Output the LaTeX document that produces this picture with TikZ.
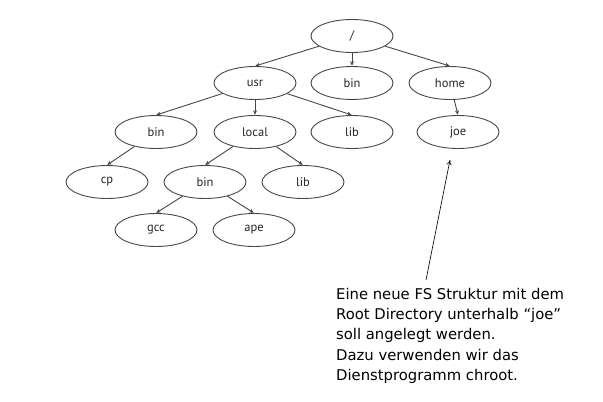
\documentclass[tikz,border=0pt]{standalone}
\usepackage{fontspec}
\setmainfont{PT Sans}
\newfontfamily\notefont{DejaVu Sans}
\usetikzlibrary{arrows.meta,shapes.geometric}
\begin{document}
\begin{tikzpicture}[x=1pt,y=-1pt,
  dir/.style={draw=black!72, line width=0.9pt, ellipse, minimum width=82pt, minimum height=33pt, inner sep=0pt, font=\fontsize{12.5}{14}\selectfont, text=black!85},
  link/.style={draw=black!72, line width=0.9pt, -{Stealth[length=4.5pt,width=4pt]}, shorten >=0.3pt},
  note/.style={draw=black, line width=0.6pt, -{To[length=5pt,width=5pt]}}]
\useasboundingbox[fill=white] (0,0) rectangle (603,402);
\node[dir] (root) at (352,36) {/};
\node[dir] (usr) at (255,83) {usr};
\node[dir] (bin1) at (352,83) {bin};
\node[dir] (home) at (450,83) {home};
\node[dir] (bin2) at (156,132) {bin};
\node[dir] (local) at (255,132) {local};
\node[dir] (lib1) at (352,132) {lib};
\node[dir] (joe) at (458,132) {joe};
\node[dir] (cp) at (107,182) {cp};
\node[dir] (bin3) at (205,182) {bin};
\node[dir] (lib2) at (303,182) {lib};
\node[dir] (gcc) at (156,230) {gcc};
\node[dir] (ape) at (254,230) {ape};
\draw[link] (root) -- (usr.north);
\draw[link] (root) -- (bin1.north);
\draw[link] (root) -- (home.north);
\draw[link] (usr) -- (bin2.north);
\draw[link] (usr) -- (local.north);
\draw[link] (usr) -- (lib1.north);
\draw[link] (home) -- (joe.north);
\draw[link] (bin2) -- (cp.north);
\draw[link] (local) -- (bin3.north);
\draw[link] (local) -- (lib2.north);
\draw[link] (bin3) -- (gcc.north);
\draw[link] (bin3) -- (ape.north);
\node[anchor=north west, align=left, inner sep=0pt, font=\notefont\fontsize{14.8}{20.2}\selectfont] (text) at (336,288) {Eine neue FS Struktur mit dem\\Root Directory unterhalb “joe”\\soll angelegt werden.\\Dazu verwenden wir das\\Dienstprogramm chroot.};
\coordinate (tail) at (426,280);
\coordinate (tip) at (450,160);
\draw[note] (tail) -- (tip);
\end{tikzpicture}
\end{document}
